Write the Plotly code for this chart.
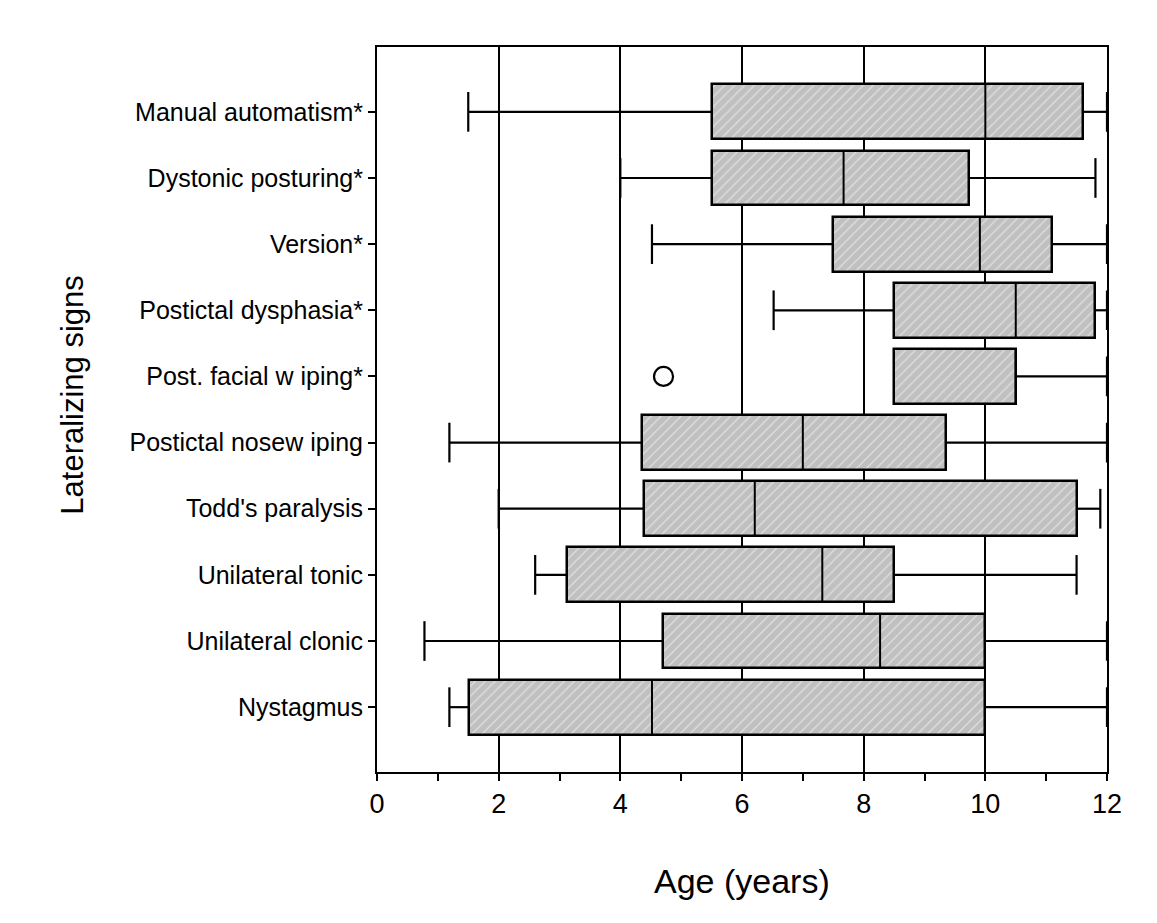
import plotly.graph_objects as go

# Categories listed top to bottom as in the chart
categories = [
    "Manual automatism*",
    "Dystonic posturing*",
    "Version*",
    "Postictal dysphasia*",
    "Post. facial w iping*",
    "Postictal nosew iping",
    "Todd's paralysis",
    "Unilateral tonic",
    "Unilateral clonic",
    "Nystagmus",
]
whisker_low = [1.5, 4.0, 4.52, 6.52, 8.5, 1.19, 2.0, 2.6, 0.78, 1.19]
q1 = [5.5, 5.5, 7.5, 8.5, 8.5, 4.35, 4.39, 3.13, 4.7, 1.51]
median = [10.0, 7.67, 9.91, 10.5, 10.5, 7.0, 6.21, 7.32, 8.27, 4.52]
q3 = [11.61, 9.73, 11.1, 11.81, 10.5, 9.35, 11.5, 8.5, 10.0, 10.0]
whisker_high = [12.0, 11.81, 12.0, 12.0, 12.0, 12.0, 11.89, 11.5, 12.0, 12.0]
outlier_cat = ["Post. facial w iping*"]
outlier_age = [4.71]

x_ticks = [0, 2, 4, 6, 8, 10, 12]

n = len(categories)
ypos = [n - 1 - i for i in range(n)]  # top category at the top
ymap = dict(zip(categories, ypos))

BOX_W = 0.83
CAP_H = 0.6
FONT = "Liberation Sans, Arial, sans-serif"

# page body adds an 8px offset; plot area targets x 377-1107, y 47-772
L, T, PW, PH = 369, 39, 730, 725
W, H = 1149, 915

fig = go.Figure()

# Boxes (IQR) as horizontal bars with hatch pattern
fig.add_trace(go.Bar(
    y=ypos,
    x=[b - a for a, b in zip(q1, q3)],
    base=q1,
    orientation="h",
    width=BOX_W,
    marker=dict(
        color="#c0c0c0",
        line=dict(color="black", width=2.5),
        pattern=dict(shape="/", fgcolor="white", bgcolor="#c0c0c0",
                     size=7, solidity=0.18),
    ),
    showlegend=False,
    hoverinfo="skip",
))

# Medians, whiskers and caps
mx, my = [], []
wx, wy = [], []
cx, cy = [], []
for y, lo, a, m, b, hi in zip(ypos, whisker_low, q1, median, q3, whisker_high):
    mx += [m, m, None]
    my += [y - BOX_W / 2, y + BOX_W / 2, None]
    if lo < a:
        wx += [lo, a, None]
        wy += [y, y, None]
        cx += [lo, lo, None]
        cy += [y - CAP_H / 2, y + CAP_H / 2, None]
    if hi > b:
        wx += [b, hi, None]
        wy += [y, y, None]
        cx += [hi, hi, None]
        cy += [y - CAP_H / 2, y + CAP_H / 2, None]

fig.add_trace(go.Scatter(x=mx, y=my, mode="lines",
                         line=dict(color="black", width=2),
                         showlegend=False, hoverinfo="skip"))
fig.add_trace(go.Scatter(x=wx, y=wy, mode="lines",
                         line=dict(color="black", width=2.2),
                         showlegend=False, hoverinfo="skip"))
fig.add_trace(go.Scatter(x=cx, y=cy, mode="lines",
                         line=dict(color="black", width=2.2),
                         showlegend=False, hoverinfo="skip"))

# Outlier
fig.add_trace(go.Scatter(
    x=outlier_age, y=[ymap[c] for c in outlier_cat], mode="markers",
    marker=dict(symbol="circle-open", size=19, color="black",
                line=dict(color="black", width=2.2)),
    showlegend=False, hoverinfo="skip"))

fig.update_layout(
    width=W, height=H,
    margin=dict(l=L, r=W - L - PW, t=T, b=H - T - PH),
    paper_bgcolor="white", plot_bgcolor="white",
    bargap=0,
    xaxis=dict(
        range=[0, 12], tickvals=x_ticks, ticktext=[str(v) for v in x_ticks],
        showgrid=True, gridcolor="black", gridwidth=2,
        zeroline=False,
        showline=True, linecolor="black", linewidth=2, mirror=True,
        ticks="outside", ticklen=7, tickwidth=2, tickcolor="black",
        minor=dict(dtick=1, tick0=0, ticks="outside", ticklen=7, tickwidth=2,
                   tickcolor="black", showgrid=False),
        tickfont=dict(family="Liberation Sans", size=27, color="black"),
    ),
    yaxis=dict(
        range=[-0.98, n - 1 + 0.98],
        tickvals=ypos, ticktext=categories,
        showgrid=False, zeroline=False,
        showline=True, linecolor="black", linewidth=2, mirror=True,
        ticks="outside", ticklen=7, tickwidth=2, tickcolor="black",
        tickfont=dict(family=FONT, size=25, color="black"),
    ),
    annotations=[
        dict(text="Age (years)", xref="paper", yref="paper",
             x=0.5, y=(772 - 881) / PH, xanchor="center", yanchor="middle",
             showarrow=False, font=dict(family=FONT, size=34, color="black")),
        dict(text="Lateralizing signs", xref="paper", yref="paper",
             x=(71.7 - 377) / PW, y=(772 - 395) / PH, textangle=-90,
             xanchor="center", yanchor="middle",
             showarrow=False, font=dict(family=FONT, size=31, color="black")),
    ],
)

fig.write_html("out.html")
